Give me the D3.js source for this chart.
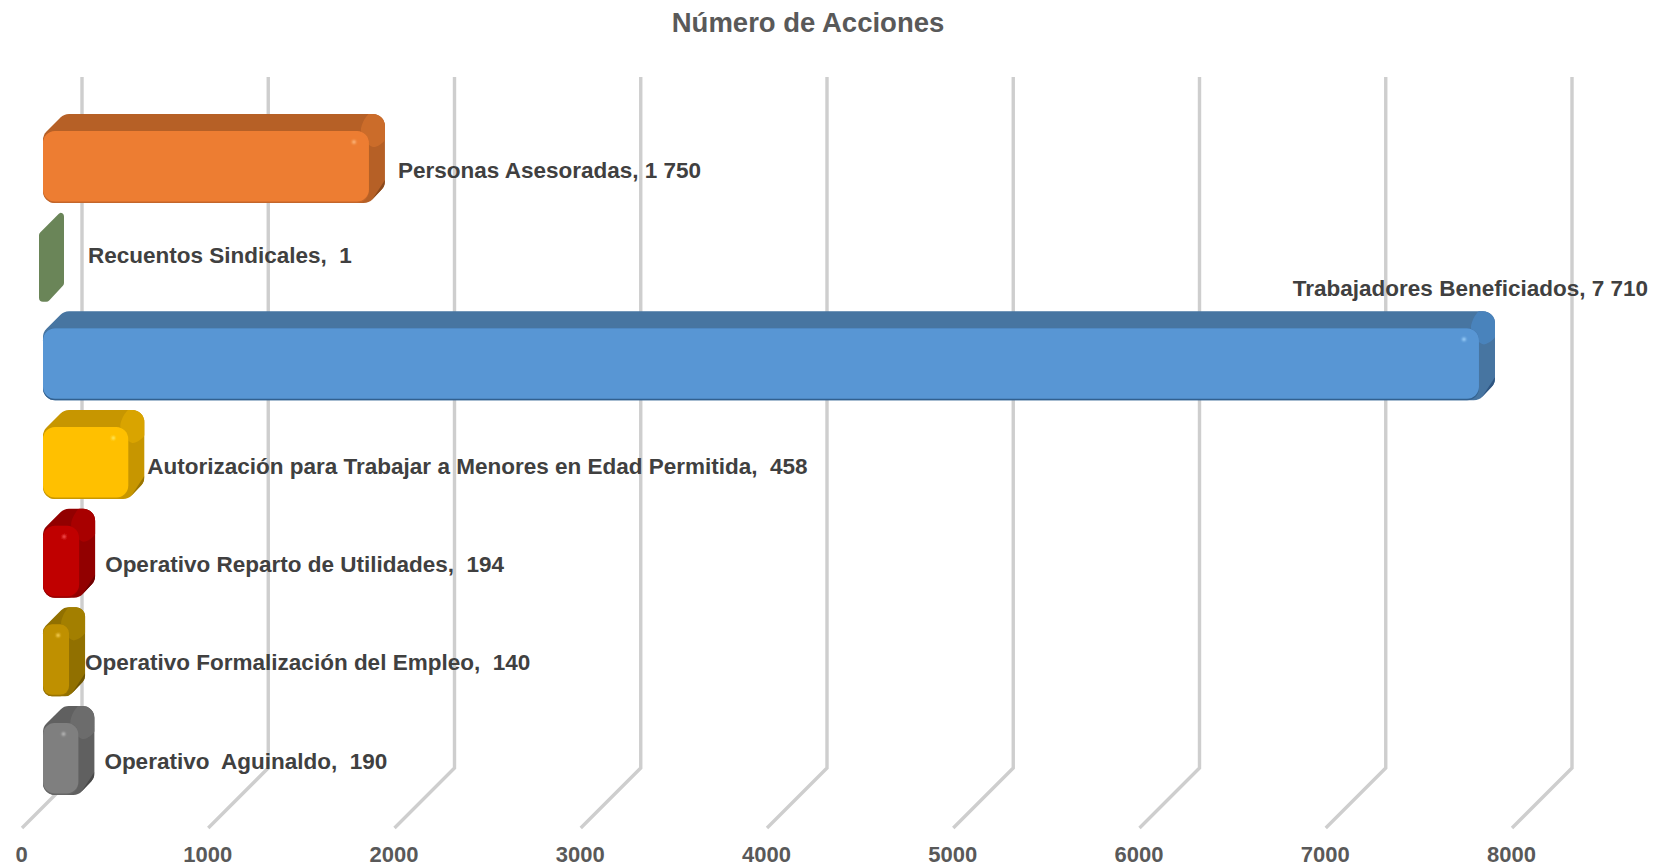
<!DOCTYPE html>
<html lang="es"><head><meta charset="utf-8">
<script src="https://cdn.jsdelivr.net/npm/d3@7"></script>
<style>html,body{margin:0;background:#fff}svg{display:block}text{font-family:"Liberation Sans",Arial,sans-serif;font-weight:700;white-space:pre}</style>
</head><body><svg id="c" width="1661" height="866"></svg>
<script>
const categories = ["Personas Asesoradas","Recuentos Sindicales","Trabajadores Beneficiados","Autorización para Trabajar a Menores en Edad Permitida","Operativo Reparto de Utilidades","Operativo Formalización del Empleo","Operativo  Aguinaldo"];
const values = [1750,1,7710,458,194,140,190];
const valueLabels = ["1 750"," 1","7 710"," 458"," 194"," 140"," 190"];
const tickValues = [0,1000,2000,3000,4000,5000,6000,7000,8000];
const frontColors = ["#ED7D31","#6B8559","#5896D4","#FFC000","#C00000","#BF9000","#7F7F7F"];
const sideColors  = ["#B66027","#6B8559","#4674A1","#C79600","#920000","#917000","#606060"];
const cornerColors= ["#CB6C2B","#6B8559","#4A83BC","#D9A400","#A80000","#A37F00","#6C6C6C"];
const lowColors   = ["#8A4A1E","#6B8559","#2F5580","#9A7400","#6E0000","#6E5500","#484848"];
const edgeColors  = ["#C4662A","#6B8559","#33618F","#C99800","#9C0000","#997300","#666666"];
const glowColors  = ["#FFC48F","#6B8559","#A6D8FF","#FFF070","#FF6060","#FFD860","#C4C4C4"];

const svg = d3.select("#c");
const D = {dx:16, dy:17};
const grid = {lift:60, shift:60, top:77, bottom:828};
const xFront = d3.scaleLinear().domain([0,8000]).range([22,1512]);
const barX = v => xFront(v) + 21;
const y = d3.scaleBand().domain(categories).range([114,795]).paddingInner(0.098).paddingOuter(0);
const labelGap = [13,24,null,3,10,0,10];
const labelDrop = [56,43,-23,56,56,55,55];

const defs=svg.append("defs");
const soft=defs.append("filter").attr("id","soft").attr("x","-2%").attr("y","-2%").attr("width","104%").attr("height","104%");
soft.append("feGaussianBlur").attr("stdDeviation",0.45);
const glow=defs.append("filter").attr("id","glow").attr("x","-100%").attr("y","-100%").attr("width","300%").attr("height","300%");
glow.append("feGaussianBlur").attr("stdDeviation",0.9);

const root=svg.append("g");

root.append("text").attr("x",808).attr("y",32).attr("text-anchor","middle")
  .attr("font-size",27.5).attr("fill","#595959").text("Número de Acciones");

const g = root.append("g").attr("stroke","#CECECE").attr("stroke-width",3.4).attr("fill","none").attr("filter","url(#soft)");
tickValues.forEach(t=>{
  const x=xFront(t);
  g.append("path").attr("d",d3.line()([[x,grid.bottom],[x+grid.shift,grid.bottom-grid.lift],[x+grid.shift,grid.top]]));
});

const axis = d3.axisBottom(xFront).tickValues(tickValues).tickSize(0).tickFormat(d3.format("d"));
const ax = root.append("g").attr("transform","translate(-1,840)").call(axis);
ax.select(".domain").remove();
ax.selectAll("text").attr("font-size",22).attr("fill","#595959").attr("dy",0).attr("y",22)
  .style("font-family",'"Liberation Sans",Arial,sans-serif').style("font-weight",700);

function roundPoly(pts,r){
  const p=d3.path(), n=pts.length;
  const a=pts[n-1], b=pts[0];
  p.moveTo((a[0]+b[0])/2,(a[1]+b[1])/2);
  for(let i=0;i<n;i++){const c=pts[i],d=pts[(i+1)%n]; p.arcTo(c[0],c[1],d[0],d[1],r);}
  p.closePath();
  return p.toString();
}

categories.forEach((c,i)=>{
  const v=values[i];
  let xl=barX(0), xr=barX(v);
  const thin = xr-xl<4;
  if(thin){xl-=4; xr=xl+9;}
  const yt=y(c), yb=yt+y.bandwidth(), yf=yt+D.dy;
  const sil=[[xl,yf+4],[xl+D.dx+5,yt],[xr+D.dx,yt],[xr+D.dx,yb-D.dy],[xr,yb],[xl,yb]];
  const b=root.append("g").attr("filter","url(#soft)");
  if(thin){
    b.append("path").attr("d",roundPoly(sil,4)).attr("fill",frontColors[i]);
  } else {
    const id="clip"+i;
    const r=Math.min(12,Math.max(9,(xr-xl)/3));
    const sp=roundPoly(sil,r);
    defs.append("clipPath").attr("id",id).append("path").attr("d",sp);
    b.append("path").attr("d",sp).attr("fill",sideColors[i]);
    const inner=b.append("g").attr("clip-path",`url(#${id})`);
    inner.append("path").attr("fill",cornerColors[i])
      .attr("d",d3.line().curve(d3.curveCatmullRomClosed)([[xr-8,yf],[xr+D.dx-14,yt-2],[xr+D.dx+2,yt-2],[xr+D.dx+2,yf+6],[xr+4,yf+16]]));
    inner.append("path").attr("fill",lowColors[i])
      .attr("d",d3.line()([[xr+1,yb],[xr+D.dx,yb-D.dy-6],[xr+D.dx,yb-D.dy+4],[xr,yb+2]]));
    b.append("rect").attr("x",xl).attr("y",yf).attr("width",xr-xl).attr("height",yb-yf).attr("rx",r)
      .attr("fill",edgeColors[i]);
    b.append("rect").attr("x",xl).attr("y",yf).attr("width",xr-xl).attr("height",yb-yf-1.5).attr("rx",r)
      .attr("fill",frontColors[i]);
    b.append("circle").attr("cx",xr-Math.min(15,(xr-xl)*0.42)).attr("cy",yf+11).attr("r",1.8)
      .attr("fill",glowColors[i]).attr("filter","url(#glow)");
  }
  const text=categories[i]+", "+valueLabels[i];
  const t=root.append("text").attr("font-size",22.5).attr("fill","#404040").attr("dominant-baseline","central").text(text);
  if(labelGap[i]===null){
    t.attr("x",barX(v)+D.dx+153).attr("y",yt+labelDrop[i]).attr("text-anchor","end");
  } else {
    t.attr("x",(thin?xr:barX(v))+D.dx+labelGap[i]).attr("y",yt+labelDrop[i]);
  }
});
</script></body></html>
